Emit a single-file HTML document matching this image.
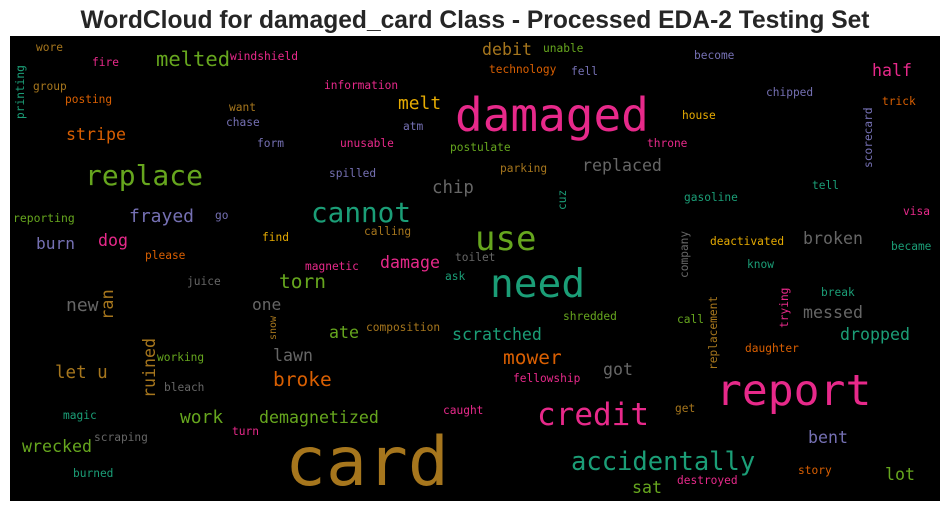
<!DOCTYPE html>
<html><head><meta charset="utf-8"><style>
html,body{margin:0;padding:0;background:#fff;width:950px;height:511px;overflow:hidden}
svg{display:block}
.w{font-family:"DejaVu Sans Mono","Liberation Mono",monospace}
</style></head><body>
<svg width="950" height="511" viewBox="0 0 950 511">
<text x="475" y="28" text-anchor="middle" font-family="Liberation Sans, Arial, sans-serif" font-weight="bold" font-size="24.6" fill="#262626">WordCloud for damaged_card Class - Processed EDA-2 Testing Set</text>
<rect x="10" y="36" width="930" height="465" fill="#000"/>
<g class="w">
<text x="455" y="131" font-size="46" fill="#e7298a">damaged</text>
<text x="285" y="485" font-size="68" fill="#a6761d">card</text>
<text x="716" y="405" font-size="43" fill="#e7298a">report</text>
<text x="490" y="297" font-size="39.5" fill="#1b9e77">need</text>
<text x="475" y="250" font-size="34" fill="#66a61e">use</text>
<text x="537" y="425" font-size="31" fill="#e7298a">credit</text>
<text x="571" y="470" font-size="25.5" fill="#1b9e77">accidentally</text>
<text x="85" y="185" font-size="28" fill="#66a61e">replace</text>
<text x="311" y="222" font-size="27.7" fill="#1b9e77">cannot</text>
<text x="156" y="66" font-size="20.5" fill="#66a61e">melted</text>
<text x="230" y="60" font-size="11.3" fill="#e7298a">windshield</text>
<text x="36" y="51" font-size="11.2" fill="#a6761d">wore</text>
<text x="92" y="66" font-size="11.2" fill="#e7298a">fire</text>
<text transform="translate(24,119) rotate(-90)" font-size="11.2" fill="#1b9e77">printing</text>
<text x="33" y="90" font-size="11.2" fill="#a6761d">group</text>
<text x="65" y="103" font-size="11.2" fill="#d95f02">posting</text>
<text x="66" y="140" font-size="16.6" fill="#d95f02">stripe</text>
<text x="129" y="222" font-size="18" fill="#7570b3">frayed</text>
<text x="13" y="222" font-size="11.4" fill="#66a61e">reporting</text>
<text x="215" y="219" font-size="11.2" fill="#7570b3">go</text>
<text x="36" y="249" font-size="16.2" fill="#7570b3">burn</text>
<text x="98" y="246" font-size="16.6" fill="#e7298a">dog</text>
<text x="145" y="259" font-size="11.2" fill="#d95f02">please</text>
<text x="262" y="241" font-size="11.2" fill="#e6ab02">find</text>
<text x="364" y="235" font-size="11.2" fill="#a6761d">calling</text>
<text x="229" y="111" font-size="11.2" fill="#a6761d">want</text>
<text x="226" y="126" font-size="11.2" fill="#7570b3">chase</text>
<text x="257" y="147" font-size="11.2" fill="#7570b3">form</text>
<text x="324" y="89" font-size="11.2" fill="#e7298a">information</text>
<text x="398" y="109" font-size="17.9" fill="#e6ab02">melt</text>
<text x="403" y="130" font-size="11.2" fill="#7570b3">atm</text>
<text x="340" y="147" font-size="11.2" fill="#e7298a">unusable</text>
<text x="329" y="177" font-size="11.2" fill="#7570b3">spilled</text>
<text x="432" y="193" font-size="17.4" fill="#666666">chip</text>
<text x="450" y="151" font-size="11.2" fill="#66a61e">postulate</text>
<text x="482" y="55" font-size="16.6" fill="#a6761d">debit</text>
<text x="543" y="52" font-size="11.2" fill="#66a61e">unable</text>
<text x="489" y="73" font-size="11.2" fill="#d95f02">technology</text>
<text x="571" y="75" font-size="11.2" fill="#7570b3">fell</text>
<text x="694" y="59" font-size="11.2" fill="#7570b3">become</text>
<text x="872" y="76" font-size="16.6" fill="#e7298a">half</text>
<text x="766" y="96" font-size="11.2" fill="#7570b3">chipped</text>
<text x="882" y="105" font-size="11.2" fill="#d95f02">trick</text>
<text x="682" y="119" font-size="11.2" fill="#e6ab02">house</text>
<text transform="translate(872,168) rotate(-90)" font-size="11.2" fill="#7570b3">scorecard</text>
<text x="647" y="147" font-size="11.2" fill="#e7298a">throne</text>
<text x="582" y="171" font-size="16.6" fill="#666666">replaced</text>
<text x="500" y="172" font-size="11.2" fill="#a6761d">parking</text>
<text x="812" y="189" font-size="11.2" fill="#1b9e77">tell</text>
<text x="684" y="201" font-size="11.2" fill="#1b9e77">gasoline</text>
<text transform="translate(566,210) rotate(-90)" font-size="11.2" fill="#1b9e77">cuz</text>
<text x="903" y="215" font-size="11.2" fill="#e7298a">visa</text>
<text x="803" y="244" font-size="16.6" fill="#666666">broken</text>
<text x="710" y="245" font-size="11.2" fill="#e6ab02">deactivated</text>
<text x="891" y="250" font-size="11.2" fill="#1b9e77">became</text>
<text transform="translate(688,278) rotate(-90)" font-size="11.2" fill="#666666">company</text>
<text x="747" y="268" font-size="11.2" fill="#1b9e77">know</text>
<text x="455" y="261" font-size="11.2" fill="#666666">toilet</text>
<text x="445" y="280" font-size="11.2" fill="#1b9e77">ask</text>
<text x="305" y="270" font-size="11.2" fill="#e7298a">magnetic</text>
<text x="380" y="268" font-size="16.6" fill="#e7298a">damage</text>
<text x="279" y="288" font-size="19.5" fill="#66a61e">torn</text>
<text x="187" y="285" font-size="11.2" fill="#666666">juice</text>
<text x="66" y="311" font-size="18" fill="#666666">new</text>
<text transform="translate(113,320) rotate(-90)" font-size="17" fill="#a6761d">ran</text>
<text x="252" y="310" font-size="16.2" fill="#666666">one</text>
<text transform="translate(276,340) rotate(-90)" font-size="10" fill="#a6761d">snow</text>
<text x="329" y="338" font-size="16.6" fill="#66a61e">ate</text>
<text x="366" y="331" font-size="11.2" fill="#a6761d">composition</text>
<text x="452" y="340" font-size="16.6" fill="#1b9e77">scratched</text>
<text x="563" y="320" font-size="11.2" fill="#66a61e">shredded</text>
<text x="677" y="323" font-size="11.2" fill="#66a61e">call</text>
<text transform="translate(717,370) rotate(-90)" font-size="11.2" fill="#a6761d">replacement</text>
<text transform="translate(788,328) rotate(-90)" font-size="11.2" fill="#e7298a">trying</text>
<text x="821" y="296" font-size="11.2" fill="#1b9e77">break</text>
<text x="803" y="318" font-size="16.6" fill="#666666">messed</text>
<text x="840" y="340" font-size="16.6" fill="#1b9e77">dropped</text>
<text x="745" y="352" font-size="11.2" fill="#d95f02">daughter</text>
<text transform="translate(155,398) rotate(-90)" font-size="16.6" fill="#a6761d">ruined</text>
<text x="157" y="361" font-size="11.2" fill="#66a61e">working</text>
<text x="273" y="361" font-size="16.6" fill="#666666">lawn</text>
<text x="503" y="364" font-size="19.5" fill="#d95f02">mower</text>
<text x="603" y="375" font-size="16.6" fill="#666666">got</text>
<text x="55" y="378" font-size="17.5" fill="#a6761d">let u</text>
<text x="164" y="391" font-size="11.2" fill="#666666">bleach</text>
<text x="273" y="386" font-size="19.5" fill="#d95f02">broke</text>
<text x="513" y="382" font-size="11.2" fill="#e7298a">fellowship</text>
<text x="675" y="412" font-size="11.2" fill="#a6761d">get</text>
<text x="443" y="414" font-size="11.2" fill="#e7298a">caught</text>
<text x="63" y="419" font-size="11.2" fill="#1b9e77">magic</text>
<text x="180" y="423" font-size="17.9" fill="#66a61e">work</text>
<text x="259" y="423" font-size="16.6" fill="#66a61e">demagnetized</text>
<text x="232" y="435" font-size="11.2" fill="#e7298a">turn</text>
<text x="94" y="441" font-size="11.2" fill="#666666">scraping</text>
<text x="22" y="452" font-size="16.6" fill="#66a61e">wrecked</text>
<text x="808" y="443" font-size="16.6" fill="#7570b3">bent</text>
<text x="73" y="477" font-size="11.2" fill="#1b9e77">burned</text>
<text x="798" y="474" font-size="11.2" fill="#d95f02">story</text>
<text x="885" y="480" font-size="16.6" fill="#66a61e">lot</text>
<text x="632" y="493" font-size="16.6" fill="#66a61e">sat</text>
<text x="677" y="484" font-size="11.2" fill="#e7298a">destroyed</text>
</g>
</svg>
</body></html>
